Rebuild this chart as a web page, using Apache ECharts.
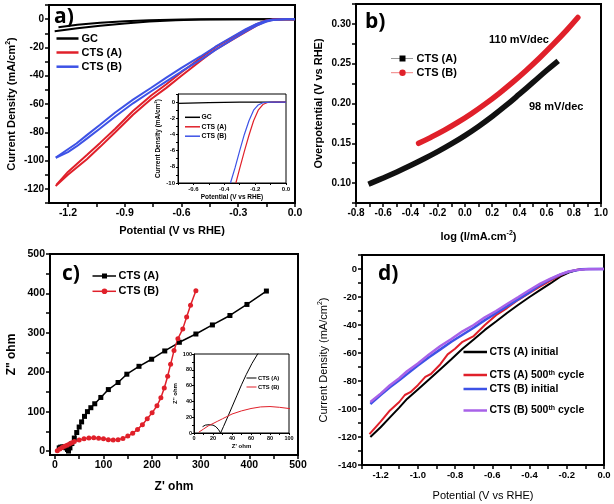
<!DOCTYPE html>
<html><head><meta charset="utf-8">
<script src="https://cdn.jsdelivr.net/npm/echarts@6/dist/echarts.min.js"></script>
<style>html,body{margin:0;padding:0;background:#fff}#c{width:614px;height:504px}</style>
</head><body><div id="c"></div>
<script>
// ---------- Panel a: LSV (main) ----------
const aGcLower = [[-1.27,-8.6],[-1.15,-6.5],[-1.03,-4.6],[-0.9,-3],[-0.77,-1.7],[-0.63,-0.8],[-0.5,-0.3],[-0.3,-0.05],[0,0]];
const aGcUpper = [[-1.25,-5.7],[-1.15,-4],[-1.03,-2.6],[-0.9,-1.5],[-0.77,-0.7],[-0.6,-0.2],[-0.45,0],[0,0]];
const aRedOuter = [[-1.265,-118],[-1.2,-110],[-1.1,-99],[-1.03,-90.3],[-0.95,-80],[-0.856,-67.6],[-0.76,-56.5],[-0.68,-48.6],[-0.6,-40],[-0.5,-29.6],[-0.42,-21.5],[-0.326,-14.1],[-0.26,-9],[-0.203,-4.6],[-0.16,-1.8],[-0.115,-0.3],[-0.06,0],[0,0]];
const aRedInner = [[-1.26,-117],[-1.2,-108],[-1.1,-96],[-1.03,-87.5],[-0.95,-77.5],[-0.856,-65],[-0.76,-54],[-0.68,-46],[-0.6,-37.5],[-0.5,-27.5],[-0.42,-19.8],[-0.326,-12.5],[-0.26,-7.6],[-0.203,-3.6],[-0.16,-1.2],[-0.115,-0.2],[-0.06,0],[0,0]];
const aBlueUpper = [[-1.264,-97.9],[-1.2,-92],[-1.155,-87.9],[-1.1,-82],[-1.032,-74.8],[-0.95,-66],[-0.856,-56.9],[-0.76,-48.5],[-0.68,-41.4],[-0.6,-34.5],[-0.5,-26.4],[-0.42,-19.5],[-0.326,-12.1],[-0.26,-7],[-0.203,-3.4],[-0.15,-1],[-0.115,-0.3],[-0.044,0],[0,0]];
const aBlueLower = [[-1.264,-98],[-1.2,-94],[-1.155,-90],[-1.1,-84.5],[-1.032,-77.5],[-0.95,-68.8],[-0.856,-59.5],[-0.76,-51],[-0.68,-44],[-0.6,-37],[-0.5,-28.8],[-0.42,-21.7],[-0.326,-14],[-0.26,-8.6],[-0.203,-4.6],[-0.15,-1.7],[-0.115,-0.6],[-0.05,0],[0,0]];
// ---------- Panel a: inset ----------
const aInGc = [[-0.7,-0.15],[-0.5,-0.06],[-0.3,-0.01],[0,0]];
const aInRed = [[-0.325,-10],[-0.3,-8.2],[-0.27,-6.1],[-0.24,-4.1],[-0.21,-2.3],[-0.18,-1.0],[-0.15,-0.3],[-0.12,-0.05],[-0.08,0],[0,0]];
const aInBlue = [[-0.36,-10],[-0.33,-8.1],[-0.3,-6.0],[-0.27,-4.0],[-0.24,-2.3],[-0.21,-1.0],[-0.18,-0.35],[-0.15,-0.08],[-0.1,0],[0,0]];
// ---------- Panel b: Tafel ----------
const bA = [[-0.69,0.100],[-0.6,0.1065],[-0.5,0.114],[-0.4,0.122],[-0.3,0.1305],[-0.2,0.1395],[-0.1,0.1492],[0.0,0.1597],[0.1,0.1712],[0.2,0.1837],[0.3,0.1972],[0.4,0.2117],[0.5,0.2265],[0.6,0.2415],[0.67,0.2515]];
const bB = [[-0.34,0.150],[-0.25,0.1575],[-0.15,0.1665],[-0.05,0.1765],[0.05,0.1875],[0.15,0.1995],[0.25,0.2125],[0.35,0.2265],[0.45,0.2415],[0.55,0.2575],[0.65,0.2745],[0.75,0.2925],[0.83,0.308]];
const bLabels = ['110 mV/dec','98 mV/dec'];
// ---------- Panel c: Nyquist ----------
const cA = [[9,8],[12,10],[16,10.5],[20,10],[23,8],[26,4],[28,0],[31,8],[35,19],[40,33],[45,47],[50,61],[55,74],[61,88],[67,100],[74,110],[82,120],[94.5,136],[110,156],[130,174],[148,195],[173,215],[199,233],[226,254],[256,276],[290,297],[324,320],[360,344],[395,372],[435,406]];
const cB = [[5,1],[10,5],[15,9],[20,12],[25,15],[30,18],[35,21],[40,24],[50,28],[60,31],[70,33],[80,33.5],[90,32.5],[100,31],[110,29],[120,28],[130,29],[140,32],[150,38],[160,45],[170,55],[180,67],[190,82],[200,97],[210,115],[218,135],[225,160],[232,190],[238,220],[245,255],[253,285],[263,310],[271,340],[279,370],[290,407]];
// ---------- Panel d: stability ----------
const dAinit = [[-1.255,-120],[-1.2,-113],[-1.15,-106],[-1.1,-99],[-1.058,-92.8],[-1.0,-86],[-0.94,-79],[-0.879,-71.6],[-0.82,-64.5],[-0.76,-57],[-0.70,-50.3],[-0.64,-43.5],[-0.58,-37.5],[-0.521,-31.4],[-0.46,-25.5],[-0.4,-20],[-0.342,-14.9],[-0.29,-10.5],[-0.235,-5.4],[-0.19,-2.5],[-0.146,-0.7],[-0.1,0],[0,0]];
const dA500 = [[-1.26,-118],[-1.2,-109],[-1.15,-101],[-1.1,-95],[-1.07,-90],[-1.04,-88],[-1.0,-83],[-0.96,-77],[-0.93,-75],[-0.879,-68],[-0.84,-61],[-0.8,-57],[-0.76,-52],[-0.70,-47.9],[-0.64,-40],[-0.58,-33],[-0.521,-27.9],[-0.46,-22],[-0.4,-17],[-0.342,-12.5],[-0.29,-8.5],[-0.235,-4.5],[-0.19,-2],[-0.146,-0.5],[-0.1,0],[0,0]];
const dBinit = [[-1.255,-96.4],[-1.2,-90],[-1.15,-84.5],[-1.1,-79.5],[-1.058,-75.1],[-1.0,-69],[-0.94,-63],[-0.879,-57.4],[-0.82,-52],[-0.76,-47],[-0.70,-42],[-0.64,-36.5],[-0.58,-31.5],[-0.521,-26.7],[-0.46,-21.5],[-0.4,-16.5],[-0.342,-11.3],[-0.29,-7.5],[-0.235,-4],[-0.19,-2],[-0.163,-1.2],[-0.12,-0.2],[-0.08,0],[0,0]];
const dB500 = [[-1.255,-95],[-1.2,-89],[-1.15,-83],[-1.1,-78],[-1.058,-73],[-1.0,-67.5],[-0.94,-61],[-0.879,-55],[-0.82,-50],[-0.76,-44.5],[-0.70,-40],[-0.64,-34.5],[-0.58,-30],[-0.521,-25],[-0.46,-20],[-0.4,-15],[-0.342,-10.5],[-0.29,-7],[-0.235,-3.8],[-0.19,-1.8],[-0.15,-0.8],[-0.1,-0.1],[0,0]];

// tick/label positions
function seq(a,b,s){const r=[];for(let i=0;a+i*s<=b+1e-9;i++)r.push(+(a+i*s).toFixed(4));return r;}
const aXLabels = seq(-1.2,0,0.3), aXTicks = seq(-1.2,0,0.15);
const aYLabels = seq(-120,0,20), aYTicks = seq(-130,10,10);
const aiXLabels = seq(-0.6,0,0.2), aiXTicks = seq(-0.7,0,0.1);
const aiYLabels = seq(-10,0,2), aiYTicks = seq(-10,1,1);
const bYLabels = seq(0.10,0.30,0.05), bYTicks = seq(0.075,0.325,0.025);
const bXLabels = seq(-0.8,1.0,0.2), bXTicks = seq(-0.8,1.0,0.1);
const cLabels = seq(0,500,100), cTicks = seq(0,500,50);
const ciLabels = seq(0,100,20), ciTicks = seq(0,100,10);
const dXLabels = seq(-1.2,0,0.2), dXTicks = seq(-1.3,0,0.1);
const dYLabels = seq(-140,0,20), dYTicks = seq(-140,10,10);

const RED='#e0202a', BLUE='#3d52e6', PURPLE='#a862e8', BLK='#000';
const F='"Liberation Sans", Arial, Helvetica, sans-serif';

function ax(o){
  return {
    type:'value', gridIndex:o.g, min:o.min, max:o.max, z:o.z||0,
    axisLine:{show:true,onZero:false,lineStyle:{color:'#000',width:o.lw||2}},
    axisTick:{show:true,inside:false,length:o.tl||4,lineStyle:{color:'#000',width:o.tw||1.5},customValues:o.ticks},
    axisLabel:{show:true,customValues:o.labels,formatter:o.fmt,fontSize:o.fs||10,fontWeight:'bold',color:'#000',fontFamily:F,margin:o.margin||5},
    splitLine:{show:false},
    name:o.name, nameLocation:'middle', nameGap:o.gap,
    nameTextStyle:{fontSize:o.nfs||11,fontWeight:o.nw||'bold',color:'#000',fontFamily:F,lineHeight:(o.nfs||11)+2,
      rich:{sup:{fontSize:Math.round((o.nfs||11)*0.65),fontWeight:o.nw||'bold',lineHeight:Math.round((o.nfs||11)*0.65),verticalAlign:'top',fontFamily:F}}}
  };
}
const f1=v=>v.toFixed(1), f2=v=>v.toFixed(2), f0=v=>String(Math.round(v));

const grids=[
  {left:49,top:5,width:246,height:198},
  {left:356,top:4,width:245,height:199},
  {left:50,top:254,width:248,height:201},
  {left:362,top:255,width:242,height:210},
  {left:178,top:94,width:108,height:89,z:10},
  {left:194,top:354,width:95,height:79,z:10}
].map(g=>Object.assign({show:true,borderColor:'#000',borderWidth:g.z?1:2,backgroundColor:g.z?'#fff':'transparent',containLabel:false},g));

const xAxes=[
  ax({g:0,min:-1.3,max:0,labels:aXLabels,ticks:aXTicks,fmt:f1,name:'Potential (V vs RHE)',gap:21,fs:10.5}),
  ax({g:1,min:-0.8,max:1.0,labels:bXLabels,ticks:bXTicks,fmt:f1,name:'log (I/mA.cm{sup|-2})',gap:27,fs:10}),
  ax({g:2,min:-10,max:500,labels:cLabels,ticks:cTicks,fmt:f0,name:"Z' ohm",gap:25,nfs:12,fs:10.5}),
  ax({g:3,min:-1.3,max:0,labels:dXLabels,ticks:dXTicks,fmt:f1,name:'Potential (V vs RHE)',gap:24,nw:'normal',fs:9.5}),
  ax({g:4,min:-0.7,max:0,labels:aiXLabels,ticks:aiXTicks,fmt:f1,name:'Potential (V vs RHE)',gap:9,fs:6,nfs:6.5,lw:1,tl:2,tw:1,margin:3,z:11}),
  ax({g:5,min:0,max:100,labels:ciLabels,ticks:ciTicks,fmt:f0,name:"Z' ohm",gap:8,fs:5.5,nfs:6,lw:1,tl:2,tw:1,margin:2,z:11})
];
const yAxes=[
  ax({g:0,min:-130,max:10,labels:aYLabels,ticks:aYTicks,fmt:f0,name:'Current Density (mA/cm{sup|2})',gap:31,fs:10}),
  ax({g:1,min:0.075,max:0.325,labels:bYLabels,ticks:bYTicks,fmt:f2,name:'Overpotential (V vs RHE)',gap:31,fs:10}),
  ax({g:2,min:-10,max:500,labels:cLabels,ticks:cTicks,fmt:f0,name:'Z" ohm',gap:31,nfs:12,fs:10.5}),
  ax({g:3,min:-140,max:10,labels:dYLabels,ticks:dYTicks,fmt:f0,name:'Current Density (mA/cm{sup|2})',gap:32,nw:'normal',fs:9.5}),
  ax({g:4,min:-10,max:1,labels:aiYLabels,ticks:aiYTicks,fmt:f0,name:'Current Density (mA/cm{sup|2})',gap:11,fs:6,nfs:6.5,lw:1,tl:2,tw:1,margin:3,z:11}),
  ax({g:5,min:0,max:100,labels:ciLabels,ticks:ciTicks,fmt:f0,name:"Z'' ohm",gap:12,fs:5.5,nfs:6,lw:1,tl:2,tw:1,margin:2,z:11})
];

function ln(i,data,color,w,extra){
  return Object.assign({type:'line',xAxisIndex:i,yAxisIndex:i,data:data,showSymbol:false,symbol:'none',
    lineStyle:{color:color,width:w},itemStyle:{color:color},animation:false,silent:true,z:i>=4?12:2},extra||{});
}
const series=[
  ln(0,aGcLower,BLK,2), ln(0,aGcUpper,BLK,2),
  ln(0,aRedOuter,RED,2), ln(0,aRedInner,RED,2),
  ln(0,aBlueUpper,BLUE,2), ln(0,aBlueLower,BLUE,2),
  ln(4,aInGc,BLK,1.2), ln(4,aInRed,RED,1.2), ln(4,aInBlue,BLUE,1.2),
  ln(1,bA,'#111',5.5,{smooth:0.4,lineStyle:{color:'#111',width:5.5,cap:'square',join:'round'}}),
  ln(1,bB,RED,5.5,{smooth:0.4,lineStyle:{color:RED,width:5.5,cap:'round',join:'round'}}),
  ln(2,cA,BLK,1.5,{showSymbol:true,symbol:'rect',symbolSize:5}),
  ln(2,cB,RED,1.5,{showSymbol:true,symbol:'circle',symbolSize:5}),
  ln(5,cA,BLK,1),
  ln(5,cB,RED,1),
  ln(3,dAinit,BLK,2), ln(3,dA500,RED,2), ln(3,dBinit,BLUE,2.5), ln(3,dB500,PURPLE,2.5)
];

// legends & annotations
const G=[];
function txt(x,y,t,size,weight,extra){
  G.push({type:'text',z:100,style:Object.assign({x:x,y:y,text:t,fill:'#000',font:(weight||'bold')+' '+size+'px '+F,verticalAlign:'middle',align:'left',
    rich:{sup:{fontSize:Math.round(size*0.65),fontWeight:weight||'bold',fontFamily:F,verticalAlign:'top',lineHeight:Math.round(size*0.65)}}},extra||{})});
}
function seg(x1,x2,y,color,w){G.push({type:'line',z:100,shape:{x1:x1,y1:y,x2:x2,y2:y},style:{stroke:color,lineWidth:w}});}
// panel labels
txt(54,17,'a)',21,'bold',{font:'bold 21px "Open Sans", '+F});
txt(365,22,'b)',21,'bold',{font:'bold 21px "Open Sans", '+F});
txt(62,274,'c)',21,'bold',{font:'bold 21px "Open Sans", '+F});
txt(378,274,'d)',21,'bold',{font:'bold 21px "Open Sans", '+F});
// panel a legend
[['GC',BLK,38.5],['CTS (A)',RED,52.5],['CTS (B)',BLUE,66.7]].forEach(r=>{seg(56.5,78.5,r[2],r[1],2.5);txt(81.5,r[2],r[0],11);});
// inset a legend
[['GC',BLK,117.3],['CTS (A)',RED,126.8],['CTS (B)',BLUE,136.2]].forEach(r=>{seg(185,200,r[2],r[1],1.5);txt(201.5,r[2],r[0],6.8);});
// panel b legend
seg(391,413,58.5,'#999',1); G.push({type:'rect',z:101,shape:{x:399.5,y:55.5,width:6,height:6},style:{fill:'#000'}}); txt(416.5,58.5,'CTS (A)',11);
seg(391,413,72.7,'#f08080',1); G.push({type:'circle',z:101,shape:{cx:402.5,cy:72.7,r:3.2},style:{fill:RED}}); txt(416.5,72.7,'CTS (B)',11);
txt(489,40,bLabels[0],11); txt(529,107,bLabels[1],11);
// panel c legend
seg(92.5,116,276,BLK,1.5); G.push({type:'rect',z:101,shape:{x:102,y:273.5,width:5,height:5},style:{fill:'#000'}}); txt(118.5,276,'CTS (A)',11);
seg(92.5,116,291.3,RED,1.5); G.push({type:'circle',z:101,shape:{cx:104.5,cy:291.3,r:2.8},style:{fill:RED}}); txt(118.5,291.3,'CTS (B)',11);
// inset c legend
seg(246.5,256.5,378,BLK,1); txt(258,378,'CTS (A)',5.8);
seg(246.5,256.5,387,RED,1); txt(258,387,'CTS (B)',5.8);
// panel d legend
[['CTS (A) initial',BLK,352],['CTS (A) 500{sup|th} cycle',RED,375],['CTS (B) initial',BLUE,389],['CTS (B) 500{sup|th} cycle',PURPLE,410.5]].forEach(r=>{seg(463.5,487,r[2],r[1],2.5);txt(489.5,r[2],r[0],10.5);});

const chart=echarts.init(document.getElementById('c'),null,{renderer:'canvas'});
chart.setOption({animation:false,backgroundColor:'#fff',grid:grids,xAxis:xAxes,yAxis:yAxes,series:series,graphic:G});
</script></body></html>
